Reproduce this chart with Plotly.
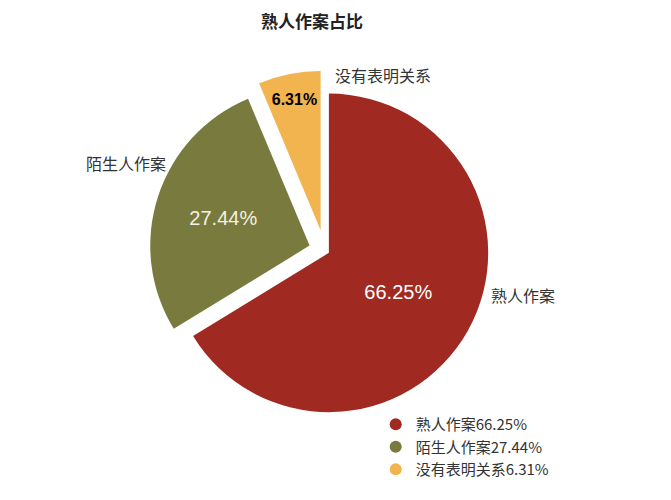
import plotly.graph_objects as go

# data
names = ["熟人作案", "陌生人作案", "没有表明关系"]
shares = [66.25, 27.44, 6.31]
colors = ["#a02a22", "#787b3d", "#f1b44e"]
pulls = [0.03, 0.1, 0.13]

legend_names = [f"{n}{s:.2f}%" for n, s in zip(names, shares)]
pct_text = [f"{s:.2f}%" for s in shares]
pct_text[2] = f"<b>{pct_text[2]}</b>"

FONT = "Noto Sans CJK SC"
NUMFONT = "Liberation Sans"

fig = go.Figure()

fig.add_trace(go.Pie(
    labels=legend_names,
    values=shares,
    text=pct_text,
    texttemplate="%{text}",
    textposition="inside",
    insidetextorientation="horizontal",
    insidetextfont=dict(family=NUMFONT, size=[20, 20, 16], color=["white", "#f4f1e0", "black"]),
    marker=dict(colors=colors, line=dict(width=0)),
    pull=pulls,
    sort=False,
    direction="clockwise",
    rotation=0,
    domain=dict(x=[0.172, 0.772], y=[0.155, 0.875]),
    showlegend=False,
    hoverinfo="label",
))

# legend entries with round markers
for lname, c in zip(legend_names, colors):
    fig.add_trace(go.Scatter(
        x=[None], y=[None], mode="markers", name=lname,
        marker=dict(symbol="circle", size=13, color=c),
    ))

# outside name labels
label_pos = [(0.768, 0.426), (0.176, 0.69), (0.559, 0.866)]
for n, (ax, ay) in zip(names, label_pos):
    fig.add_annotation(text=n, x=ax, y=ay, xref="paper", yref="paper",
                       showarrow=False, xanchor="center", yanchor="middle",
                       font=dict(family=FONT, size=16, color="#333333"))

fig.update_xaxes(visible=False)
fig.update_yaxes(visible=False)

fig.update_layout(
    width=671, height=500,
    margin=dict(l=0, r=0, t=0, b=0),
    paper_bgcolor="white",
    plot_bgcolor="white",
    font=dict(family=FONT, color="#333333"),
    title=dict(text="<b>熟人作案占比</b>", x=0.453, y=0.972, xanchor="center", yanchor="middle",
               font=dict(family=FONT, size=17, color="#222222")),
    legend=dict(x=0.548, y=0.2, xanchor="left", yanchor="top",
                font=dict(family=FONT, size=15, color="#333333"),
                itemsizing="constant",
                bgcolor="rgba(0,0,0,0)"),
)

fig.write_html("out.html")
